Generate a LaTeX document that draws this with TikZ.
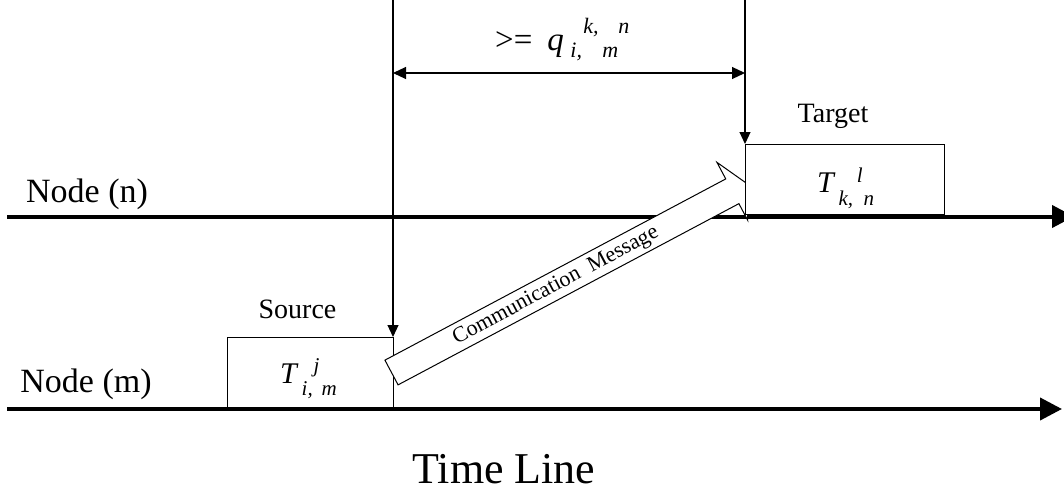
\documentclass[tikz,border=0pt]{standalone}
\usepackage{fontspec}
\setmainfont{Liberation Serif}
\usetikzlibrary{arrows.meta}
\newcommand\setfs[1]{\fontsize{#1pt}{#1pt}\selectfont}
\begin{document}
\begin{tikzpicture}[x=1pt,y=-1pt,
  thinline/.style={line width=1.1pt, draw=black},
  axis/.style={line width=4pt, draw=black, -{Triangle[length=22pt,width=22pt]}},
  vtip/.style={thinline, -{Triangle[length=12pt,width=11pt]}},
  dtip/.style={thinline, {Triangle[length=13pt,width=12pt]}-{Triangle[length=13pt,width=12pt]}},
  box/.style={draw=black, line width=1pt, fill=white, rectangle, inner sep=0pt, outer sep=0pt, anchor=north west},
  lbl/.style={inner sep=0pt, anchor=base},
  msgarrow/.style={draw=black, line width=1pt, fill=white, line join=miter},
  ]
\useasboundingbox (0,0) rectangle (1064,495);

% time lines
\coordinate (nS) at (7,216.5);
\coordinate (nE) at (1074,216.5);
\coordinate (mS) at (7,409);
\coordinate (mE) at (1062,409);
\draw[axis] (nS) -- (nE);
\draw[axis] (mS) -- (mE);

% source box
\node[box, minimum width=166pt, minimum height=70pt] (src) at (227,337) {};

% communication message arrow
\begin{scope}[shift={(391.5,372.5)}, rotate=28]
  \draw[msgarrow] (0,-14) -- (386,-14) -- (386,-32.8) -- (402.5,0) -- (386,32.8) -- (386,14) -- (0,14) -- cycle;
\end{scope}
\node[rotate=28, inner sep=0pt] (msg) at (556,286) {\setfs{22}Communication\hspace{11pt}Message};

% target box
\node[box, minimum width=199pt, minimum height=70pt] (tgt) at (745,144) {};

% vertical markers and distance
\coordinate (v1) at (393,-2);
\coordinate (v2) at (745,-2);
\draw[vtip] (v1) -- (src.north east);
\draw[vtip] (v2) -- (tgt.north west);
\coordinate (d1) at (393,73);
\coordinate (d2) at (745,73);
\draw[dtip] (d1) -- (d2);

% labels
\node[lbl] (labn) at (87,202) {\setfs{34}Node (n)};
\node[lbl] (labm) at (86,392) {\setfs{34}Node (m)};
\node[lbl] (labsrc) at (297.5,318) {\setfs{28}Source};
\node[lbl] (labtgt) at (833,122) {\setfs{28}Target};
\node[lbl] (labtime) at (504,483) {\setfs{44}Time Line};

\node[inner sep=0pt, anchor=base west] (qlab) at (495,50)
  {\setfs{33}>=\hspace{15pt}\textit{q}\hspace{6.5pt}\rlap{\raisebox{-8pt}{\setfs{22}\textit{i,}\hspace{20.4pt}\textit{m}}}\hspace{13pt}\raisebox{17pt}{\setfs{22}\textit{k,}\hspace{19.7pt}\textit{n}}};

\node[inner sep=0pt, anchor=base west] (tsrc) at (280,383)
  {\setfs{30}\textit{T}\hspace{3pt}\rlap{\raisebox{-12pt}{\setfs{21}\textit{i,}\hspace{8.9pt}\textit{m}}}\hspace{12pt}\raisebox{11pt}{\setfs{21}\textit{j}}};

\node[inner sep=0pt, anchor=base west] (ttgt) at (817,192)
  {\setfs{30}\textit{T}\hspace{3pt}\rlap{\raisebox{-13pt}{\setfs{21}\textit{k,}\hspace{10.4pt}\textit{n}}}\hspace{18.3pt}\raisebox{10pt}{\setfs{21}\textit{l}}};
\end{tikzpicture}
\end{document}
